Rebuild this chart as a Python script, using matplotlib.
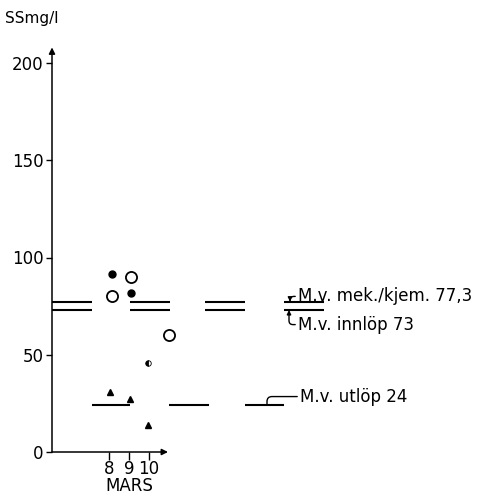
import matplotlib
matplotlib.use("Agg")
import matplotlib.pyplot as plt

# ---- data ----
filled_days = [8.15, 9.1]
filled_vals = [91.5, 81.7]
open_days = [8.15, 9.1, 11.0]
open_vals = [80, 90, 60]
tri_days = [8.05, 9.05, 9.95]
tri_vals = [31, 27, 14]
half_days = [9.95]
half_vals = [46]

mek_mean = 77.3
innlop_mean = 73
utlop_mean = 24
mean_segments = [(5.15, 7.15), (9.05, 11.05), (12.8, 14.8), (16.75, 18.75)]
utlop_segments = [(7.15, 9.05), (11.0, 13.0), (14.8, 16.75)]

yticks = [0, 50, 100, 150, 200]
xticks = [8, 9, 10]
xticklabels = ["8", "9", "10"]

W, H = 491, 498
fig = plt.figure(figsize=(W / 100, H / 100), dpi=100)
plt.rcParams['font.family'] = ['DejaVu Sans']

# axes in pixel geometry
x0_px, y0_px = 52, 452
px_per_day = 20.0
px_per_unit = 1.945
xmin = 5.15
right_px = 330
ytop = 208
ax = fig.add_axes([x0_px / W, (H - y0_px) / H,
                   (right_px - x0_px) / W, ytop * px_per_unit / H])
ax.set_xlim(xmin, xmin + (right_px - x0_px) / px_per_day)
ax.set_ylim(0, ytop)
for s in ax.spines.values():
    s.set_visible(False)

# axes lines with arrows
ax.annotate("", xy=(10.95, 0), xytext=(xmin, 0),
            arrowprops=dict(arrowstyle="-|>", lw=1.1, color="black",
                            mutation_scale=9, shrinkA=0, shrinkB=0),
            annotation_clip=False)
ax.annotate("", xy=(xmin, ytop), xytext=(xmin, 0),
            arrowprops=dict(arrowstyle="-|>", lw=1.1, color="black",
                            mutation_scale=9, shrinkA=0, shrinkB=0),
            annotation_clip=False)

ax.set_yticks(yticks)
ax.set_yticklabels([str(v) for v in yticks])
ax.set_xticks(xticks)
ax.set_xticklabels(xticklabels)
ax.tick_params(axis='y', direction='out', length=4, width=1, pad=2, labelsize=12)
ax.tick_params(axis='x', direction='out', length=6, width=1, pad=0, labelsize=12)

ax.text(9, -13.0, "MARS", ha='center', va='top', fontsize=12)
fig.text(5 / W, 1 - 18 / H, "SSmg/l", ha='left', va='center', fontsize=11)

# mean lines
for a, b in mean_segments:
    ax.plot([a, b], [mek_mean, mek_mean], color='black', lw=1.5, solid_capstyle='butt')
    ax.plot([a, b], [innlop_mean, innlop_mean], color='black', lw=1.5, solid_capstyle='butt')
for a, b in utlop_segments:
    ax.plot([a, b], [utlop_mean, utlop_mean], color='black', lw=1.5, solid_capstyle='butt')

# points
ax.plot(filled_days, filled_vals, 'o', color='black', ms=5, ls='none')
ax.plot(open_days, open_vals, 'o', mfc='white', mec='black', mew=1.3, ms=8, ls='none')
ax.plot(tri_days, tri_vals, '^', color='black', ms=5, ls='none')
ax.plot(half_days, half_vals, 'o', color='black', fillstyle='left', mfc='black',
        mfcalt='white', mec='black', mew=0.6, ms=4, ls='none')

# annotations
ax.annotate("M.v. mek./kjem. 77,3", xy=(17.05, mek_mean), xytext=(17.45, 80.0),
            ha='left', va='center', fontsize=12,
            arrowprops=dict(arrowstyle="-|>", lw=1, color='black', mutation_scale=6,
                            connectionstyle="angle,angleA=0,angleB=90,rad=4",
                            shrinkA=0, shrinkB=0),
            annotation_clip=False)
ax.annotate("M.v. innlöp 73", xy=(17.0, innlop_mean), xytext=(17.45, 65.5),
            ha='left', va='center', fontsize=12,
            arrowprops=dict(arrowstyle="-|>", lw=1, color='black', mutation_scale=6,
                            connectionstyle="angle,angleA=0,angleB=90,rad=4",
                            shrinkA=0, shrinkB=0),
            annotation_clip=False)
ax.annotate("M.v. utlöp 24", xy=(15.9, utlop_mean), xytext=(17.55, 28.5),
            ha='left', va='center', fontsize=12,
            arrowprops=dict(arrowstyle="-", lw=1, color='black',
                            connectionstyle="angle,angleA=0,angleB=90,rad=5",
                            shrinkA=0, shrinkB=0),
            annotation_clip=False)

fig.savefig("out.png", dpi=100)
